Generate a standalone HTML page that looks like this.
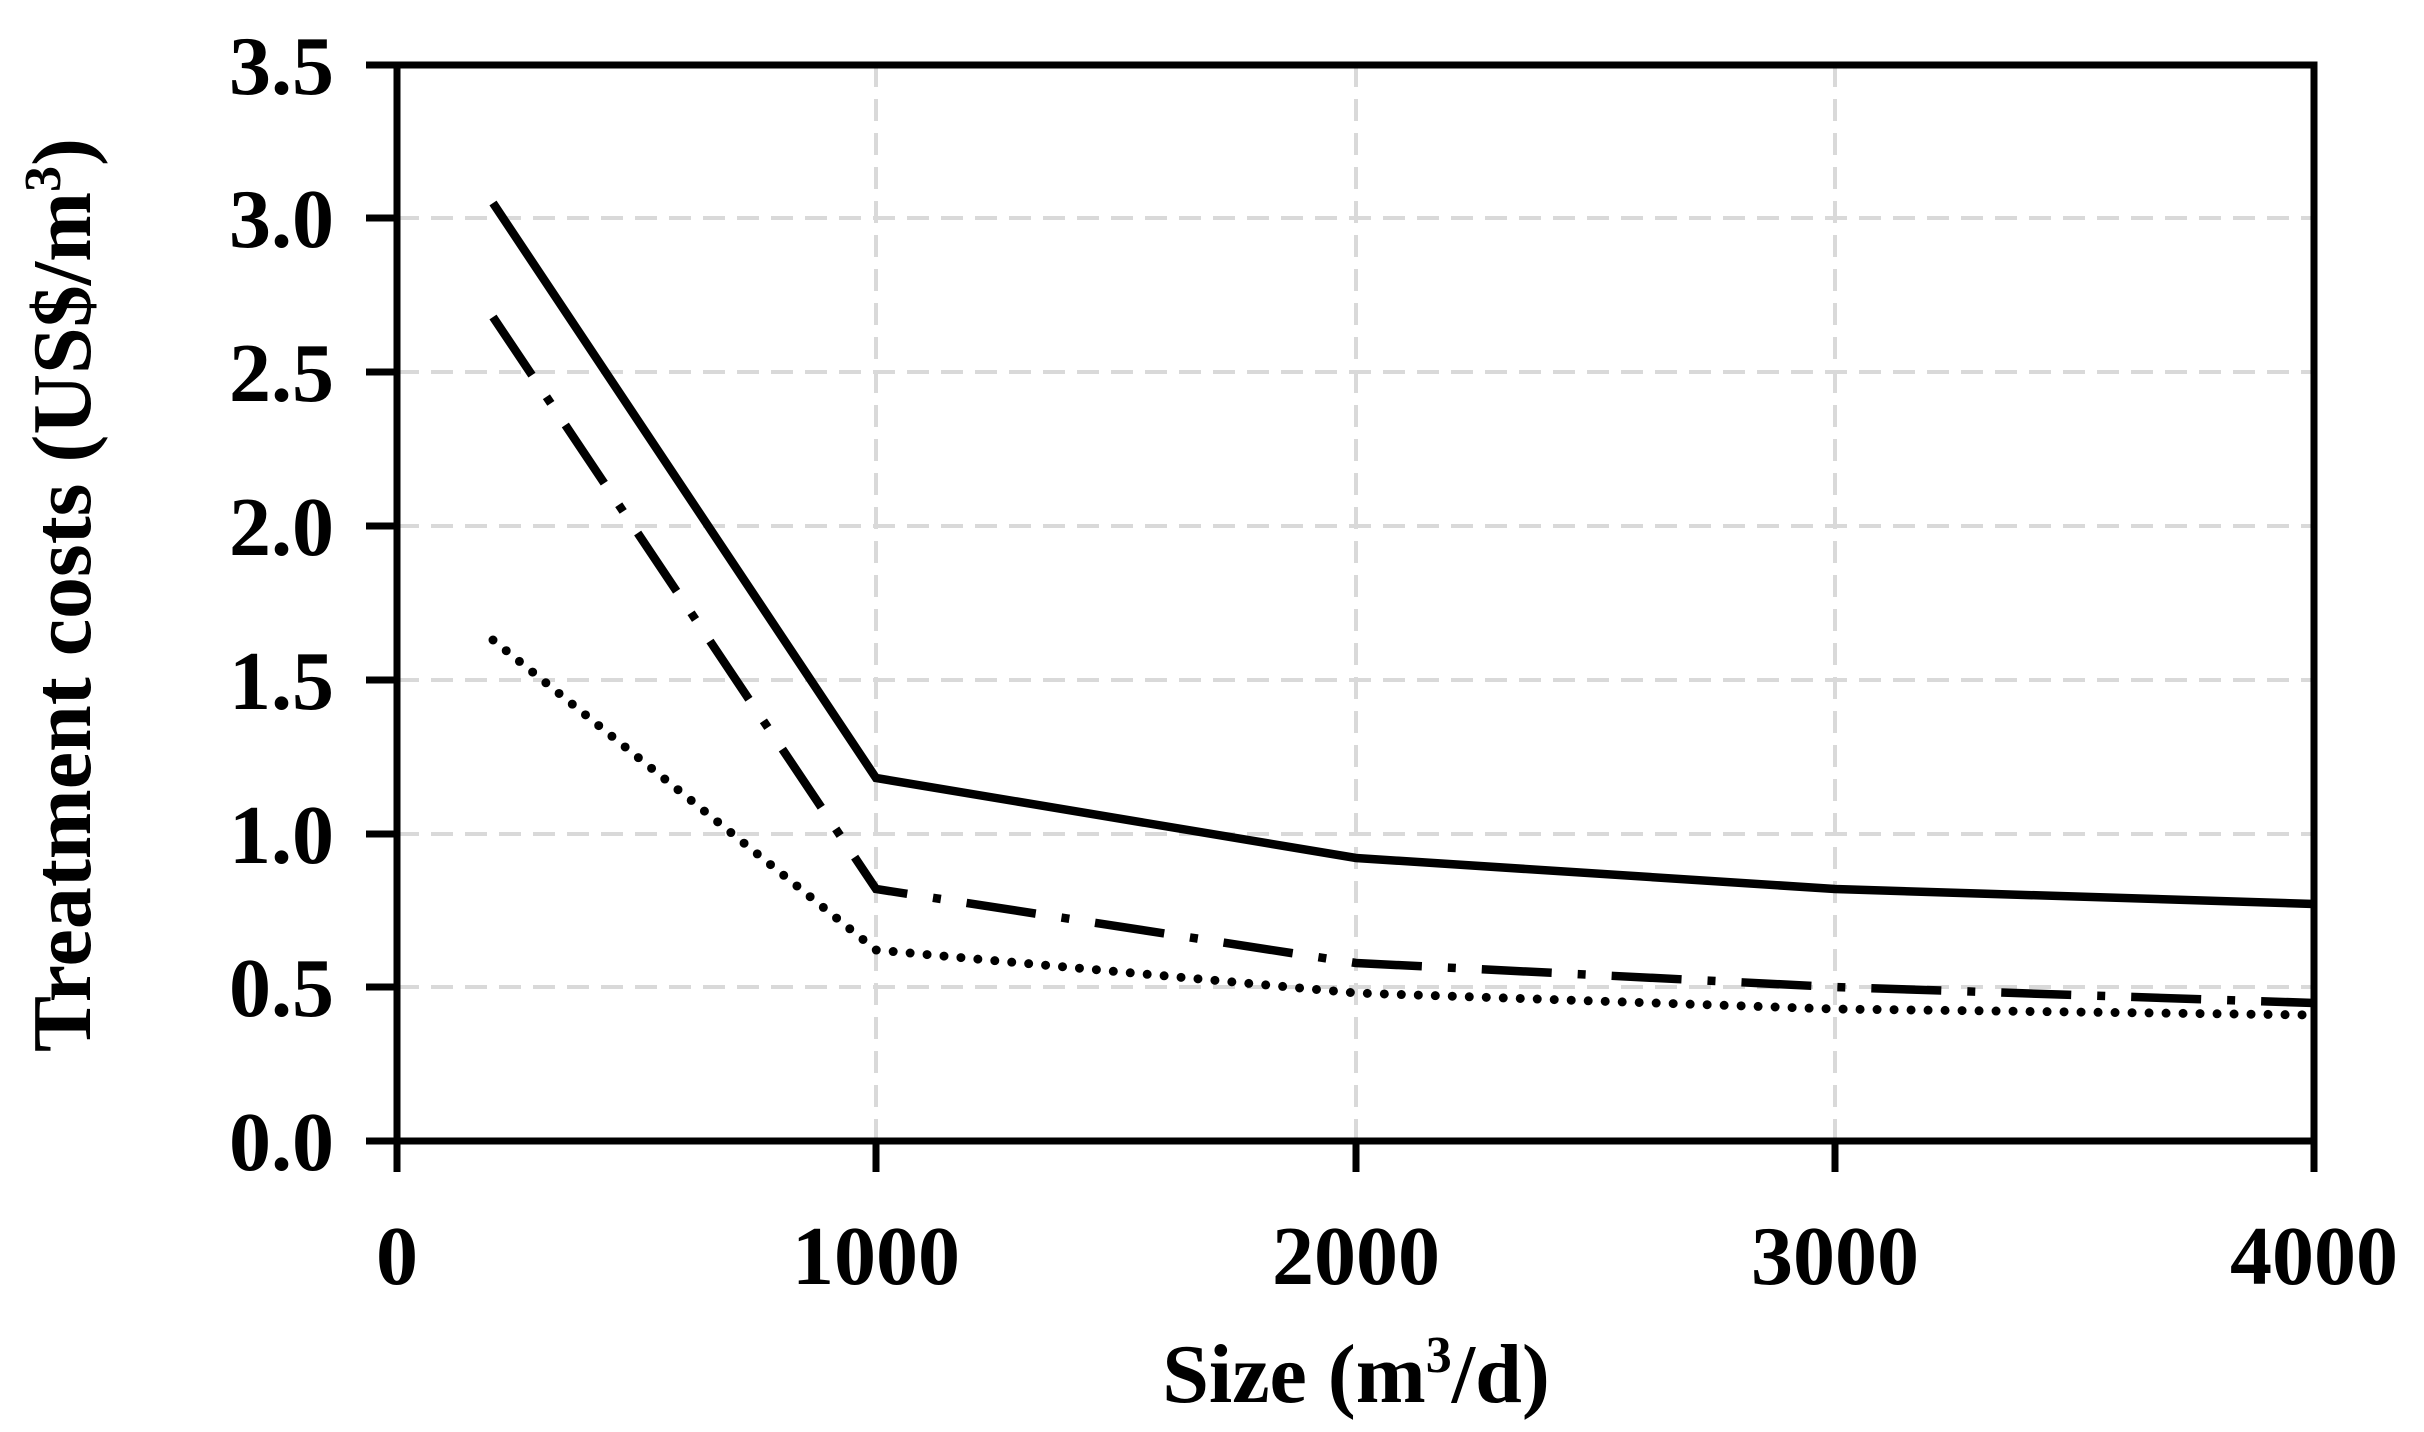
<!DOCTYPE html>
<html><head><style>body{margin:0;background:#fff}svg{display:block}</style></head><body>
<svg width="2424" height="1432" viewBox="0 0 2424 1432" xmlns="http://www.w3.org/2000/svg" font-family="'Liberation Serif',serif" font-weight="bold">
<g stroke="#d9d9d9" stroke-width="4" stroke-dasharray="22,12">
<line x1="397" x2="2314" y1="987" y2="987"/><line x1="397" x2="2314" y1="834" y2="834"/><line x1="397" x2="2314" y1="680" y2="680"/><line x1="397" x2="2314" y1="526" y2="526"/><line x1="397" x2="2314" y1="372" y2="372"/><line x1="397" x2="2314" y1="218" y2="218"/>
<line x1="876" x2="876" y1="65" y2="1141"/><line x1="1356" x2="1356" y1="65" y2="1141"/><line x1="1835" x2="1835" y1="65" y2="1141"/>
</g>
<g stroke="#000" stroke-width="7" fill="none">
<rect x="397" y="65" width="1917" height="1076"/>
<path d="M366 65H397M366 218H397M366 372H397M366 526H397M366 680H397M366 834H397M366 987H397M366 1141H397M397 1141V1172M876 1141V1172M1356 1141V1172M1835 1141V1172M2314 1141V1172"/>
</g>
<g fill="none" stroke="#000" stroke-width="8.5">
<polyline points="493,203 876,778 1356,858 1835,889 2314,904"/>
<polyline stroke-dasharray="70,26,8,26" points="493,317 876,889 1356,963 1835,987 2314,1003"/>
<polyline stroke-width="9" stroke-linecap="round" stroke-dasharray="0,17" points="493,640 876,950 1356,993 1835,1009 2314,1015"/>
</g>
<g font-size="84" text-anchor="end">
<text x="334" y="94">3.5</text><text x="334" y="247">3.0</text><text x="334" y="401">2.5</text><text x="334" y="555">2.0</text><text x="334" y="709">1.5</text><text x="334" y="863">1.0</text><text x="334" y="1016">0.5</text><text x="334" y="1170">0.0</text>
</g>
<g font-size="84" text-anchor="middle">
<text x="397" y="1284">0</text><text x="876" y="1284">1000</text><text x="1356" y="1284">2000</text><text x="1835" y="1284">3000</text><text x="2314" y="1284">4000</text>
<text x="1356" y="1402">Size (m<tspan font-size="52" dy="-30">3</tspan><tspan dy="30">/d)</tspan></text>
<text transform="translate(90,595) rotate(-90)">Treatment costs (US$/m<tspan font-size="52" dy="-30">3</tspan><tspan dy="30">)</tspan></text>
</g>
</svg>
</body></html>
